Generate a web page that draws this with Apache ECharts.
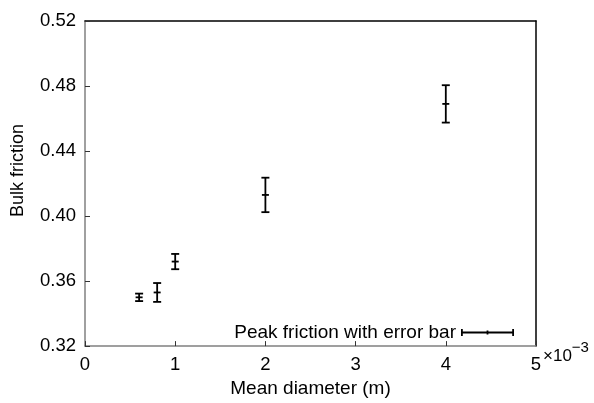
<!DOCTYPE html>
<html>
<head>
<meta charset="utf-8">
<script src="https://cdn.jsdelivr.net/npm/echarts@6/dist/echarts.min.js"></script>
<style>
html,body{margin:0;padding:0;background:#fff;}
#c{width:594px;height:403px;}
</style>
</head>
<body>
<div id="c"></div>
<script>
// Mean diameter in units of 1e-3 m
const diameters = [0.6, 0.8, 1.0, 2.0, 4.0];
const frictionMean = [0.350, 0.353, 0.372, 0.413, 0.469];
const frictionErr = [0.0023, 0.0058, 0.0047, 0.0106, 0.0115];
const yTicks = [0.32, 0.36, 0.40, 0.44, 0.48, 0.52];
const xTicks = [0, 1, 2, 3, 4, 5];
const seriesName = 'Peak friction with error bar';

const FONT = '"Liberation Sans", Arial, Helvetica, sans-serif';
const data = diameters.map((d, i) => [d, frictionMean[i], frictionErr[i]]);

const chart = echarts.init(document.getElementById('c'), null, {renderer: 'canvas'});

function renderItem(params, api) {
  const x = api.value(0), y = api.value(1), e = api.value(2);
  const c = api.coord([x, y]);
  const hi = api.coord([x, y + e]);
  const lo = api.coord([x, y - e]);
  const cap = 4, mk = 3.5;
  const st = {stroke: '#000', lineWidth: 1.8};
  return {
    type: 'group',
    children: [
      {type: 'line', shape: {x1: c[0], y1: hi[1], x2: c[0], y2: lo[1]}, style: st},
      {type: 'line', shape: {x1: c[0] - cap, y1: hi[1], x2: c[0] + cap, y2: hi[1]}, style: st},
      {type: 'line', shape: {x1: c[0] - cap, y1: lo[1], x2: c[0] + cap, y2: lo[1]}, style: st},
      {type: 'line', shape: {x1: c[0] - mk, y1: c[1], x2: c[0] + mk, y2: c[1]}, style: st}
    ]
  };
}

const legendIcon = 'path://M0,0 h1.8 v7 h-1.8 z M51.2,0 h1.8 v7 h-1.8 z M25.6,1.5 h1.8 v4 h-1.8 z M0,2.6 h53 v1.8 h-53 z';

chart.setOption({
  backgroundColor: '#fff',
  animation: false,
  textStyle: {fontFamily: FONT},
  grid: {left: 85, top: 21, right: 58, bottom: 56, containLabel: false},
  legend: {
    show: true,
    data: [{name: seriesName, icon: legendIcon}],
    align: 'right',
    right: 75,
    top: 318,
    itemWidth: 53,
    itemHeight: 7,
    itemStyle: {color: '#000', borderWidth: 0},
    textStyle: {fontFamily: FONT, fontSize: 19, color: '#000'}
  },
  xAxis: [{
    type: 'value', min: xTicks[0], max: xTicks[xTicks.length - 1], interval: 1,
    name: 'Mean diameter (m)', nameLocation: 'middle', nameGap: 31,
    nameTextStyle: {fontFamily: FONT, fontSize: 19, color: '#000'},
    axisLine: {show: true, onZero: false, lineStyle: {color: '#808080', width: 1.5}},
    axisTick: {show: true, inside: true, length: 5, lineStyle: {color: '#333', width: 1}},
    axisLabel: {fontFamily: FONT, fontSize: 18.5, color: '#000', margin: 9},
    splitLine: {show: false}
  }, {
    type: 'value', position: 'top', min: xTicks[0], max: xTicks[xTicks.length - 1], interval: 1,
    axisLine: {show: true, onZero: false, lineStyle: {color: '#000', width: 1.5}},
    axisTick: {show: false}, axisLabel: {show: false}, splitLine: {show: false}
  }],
  yAxis: [{
    type: 'value', min: yTicks[0], max: yTicks[yTicks.length - 1], interval: 0.04,
    name: 'Bulk friction', nameLocation: 'middle', nameGap: 58, nameRotate: 90,
    nameTextStyle: {fontFamily: FONT, fontSize: 18, color: '#000', padding: [0, 0, 0, 26]},
    axisLine: {show: true, onZero: false, lineStyle: {color: '#808080', width: 1.5}},
    axisTick: {show: true, inside: true, length: 5, lineStyle: {color: '#333', width: 1}},
    axisLabel: {fontFamily: FONT, fontSize: 18.5, color: '#000', margin: 9,
      formatter: v => v.toFixed(2)},
    splitLine: {show: false}
  }, {
    type: 'value', position: 'right', min: yTicks[0], max: yTicks[yTicks.length - 1], interval: 0.04,
    axisLine: {show: true, onZero: false, lineStyle: {color: '#000', width: 1.5}},
    axisTick: {show: false}, axisLabel: {show: false}, splitLine: {show: false}
  }],
  graphic: [{
    type: 'text', left: 543, top: 340,
    style: {
      text: '{a|×10}{b|−3}',
      rich: {
        a: {fontFamily: FONT, fontSize: 17, color: '#000', padding: [8, 0, 0, 0]},
        b: {fontFamily: FONT, fontSize: 15, color: '#000', verticalAlign: 'top'}
      }
    }
  }],
  series: [{
    name: seriesName,
    type: 'custom',
    renderItem: renderItem,
    itemStyle: {color: '#000'},
    encode: {x: 0, y: 1},
    data: data
  }]
});
</script>
</body>
</html>
